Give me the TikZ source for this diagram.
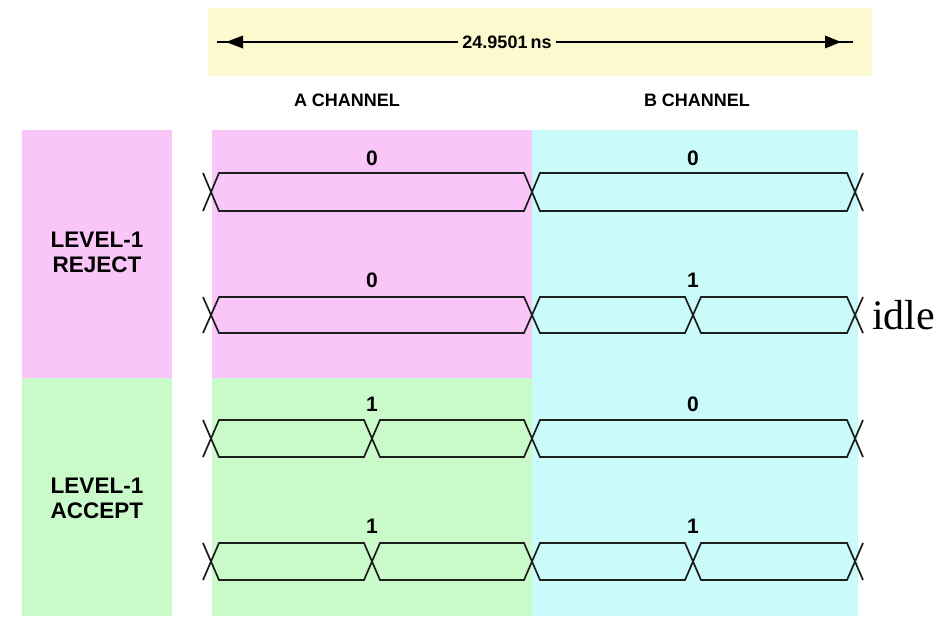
\documentclass[tikz,border=0pt]{standalone}
\usepackage{fontspec}
\setmainfont{Liberation Sans}
\newfontfamily\idlefont{Liberation Serif}
\definecolor{bandyellow}{RGB}{252,249,206}
\definecolor{rejpink}{RGB}{250,198,248}
\definecolor{accgreen}{RGB}{202,250,202}
\definecolor{bcyan}{RGB}{202,250,250}
\definecolor{wire}{RGB}{28,30,30}

% one bus segment between two crossing points: (top, bottom, x1, x2)
\newcommand\busseg[4]{%
  \draw[bus] (#3,{(#1+#2)/2}) -- (#3+8,#1) -- (#4-8,#1) -- (#4,{(#1+#2)/2})
    -- (#4-8,#2) -- (#3+8,#2) -- cycle;}
% outer half of a crossing: (top, bottom, x, direction +1/-1)
\newcommand\busstub[4]{%
  \draw[bus] (#3,{(#1+#2)/2}) -- (#3+#4*8,#1) (#3,{(#1+#2)/2}) -- (#3+#4*8,#2);}

\begin{document}
\begin{tikzpicture}[x=1pt,y=-1pt,
  hdr/.style={font=\fontsize{18}{18}\selectfont\bfseries, inner sep=0pt},
  bit/.style={font=\fontsize{21}{21}\selectfont\bfseries, inner sep=0pt},
  side/.style={font=\fontsize{22.5}{25}\selectfont\bfseries, align=center, inner sep=0pt},
  bus/.style={draw=wire, line width=1.7pt, line join=miter},
  dim/.style={draw=black, line width=1.6pt},
  tipshape/.style={fill=black},
]
\useasboundingbox (0,0) rectangle (950,616);
\fill[white] (0,0) rectangle (950,616);

% shaded bands
\fill[bandyellow] (208,8) rectangle (872,76);
\fill[rejpink] (22,130) rectangle (172,378);
\fill[accgreen] (22,378) rectangle (172,616);
\fill[rejpink] (212,130) rectangle (532,378);
\fill[accgreen] (212,378) rectangle (532,616);
\fill[bcyan] (532,130) rectangle (858,616);

% overall duration dimension line
\node[hdr, fill=bandyellow, inner xsep=4pt, inner ysep=2pt] (span) at (507,42) {24.9501\,ns};
\coordinate (dl) at (217,42);
\coordinate (dr) at (853,42);
\draw[dim] (dl) -- (span.west);
\draw[dim] (span.east) -- (dr);
\fill[tipshape] (226,42) -- (243,35.5) -- (243,48.5) -- cycle;
\fill[tipshape] (841,42) -- (825,35.5) -- (825,48.5) -- cycle;

% column headings
\node[hdr] (cha) at (347,100) {A CHANNEL};
\node[hdr] (chb) at (697,100) {B CHANNEL};

% row headings
\node[side] (rej) at (97,252) {LEVEL-1\\REJECT};
\node[side] (acc) at (97,498) {LEVEL-1\\ACCEPT};

% row 1: 0 | 0
\busstub{173}{211}{211}{-1}
\busseg{173}{211}{211}{532}
\busseg{173}{211}{532}{855}
\busstub{173}{211}{855}{1}
\node[bit] (r1a) at (372,158) {0};
\node[bit] (r1b) at (693,158) {0};

% row 2: 0 | 1
\busstub{297}{333}{211}{-1}
\busseg{297}{333}{211}{532}
\busseg{297}{333}{532}{693}
\busseg{297}{333}{693}{855}
\busstub{297}{333}{855}{1}
\node[bit] (r2a) at (372,280) {0};
\node[bit] (r2b) at (693,280) {1};
\node[anchor=base west, inner sep=0pt, font=\idlefont\fontsize{42}{42}\selectfont] (idle) at (872,329) {idle};

% row 3: 1 | 0
\busstub{420}{457}{211}{-1}
\busseg{420}{457}{211}{372}
\busseg{420}{457}{372}{532}
\busseg{420}{457}{532}{855}
\busstub{420}{457}{855}{1}
\node[bit] (r3a) at (372,404) {1};
\node[bit] (r3b) at (693,404) {0};

% row 4: 1 | 1
\busstub{543}{580}{211}{-1}
\busseg{543}{580}{211}{372}
\busseg{543}{580}{372}{532}
\busseg{543}{580}{532}{693}
\busseg{543}{580}{693}{855}
\busstub{543}{580}{855}{1}
\node[bit] (r4a) at (372,526) {1};
\node[bit] (r4b) at (693,526) {1};
\end{tikzpicture}
\end{document}
